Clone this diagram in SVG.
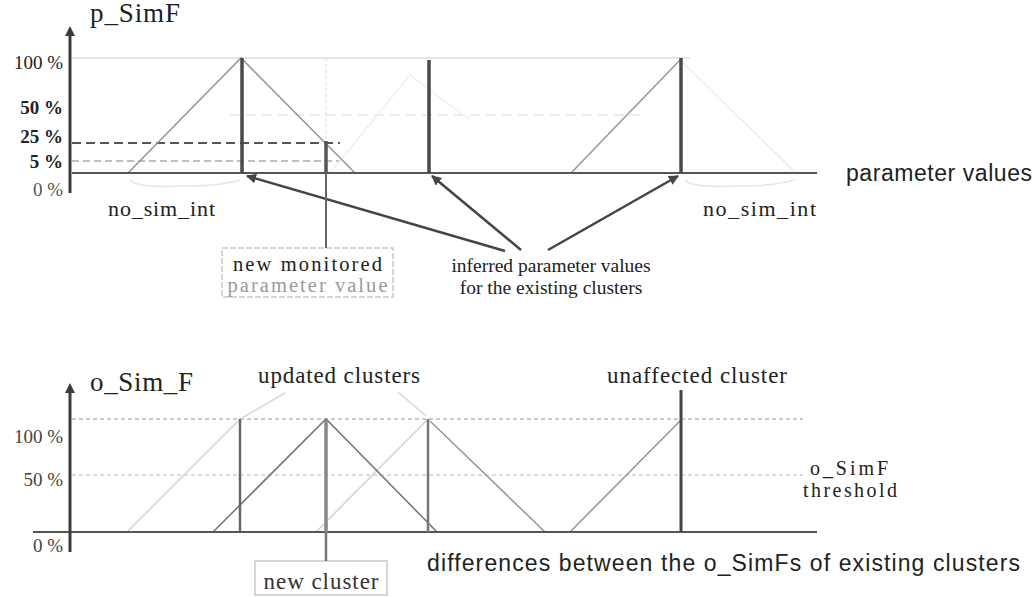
<svg xmlns="http://www.w3.org/2000/svg" width="1035" height="597" viewBox="0 0 1035 597">
  <style>
    .serif { font-family: "Liberation Serif", "Times New Roman", serif; fill: #222; }
    .sans { font-family: "Liberation Sans", Arial, sans-serif; fill: #222; }
    .axis { stroke: #3c3c3c; stroke-width: 3; fill: none; }
    .base { stroke: #555; stroke-width: 2; fill: none; }
    .bar { stroke: #4a4a4a; stroke-width: 3.5; fill: none; }
    .tri { stroke: #999; stroke-width: 1.6; fill: none; }
    .faint { stroke: #e6e6e6; stroke-width: 1.5; fill: none; }
    .lead { stroke: #444; stroke-width: 2.5; fill: none; }
    .box { stroke: #c8c8c8; stroke-width: 1.5; fill: none; }
  </style>
  <defs>
    <marker id="tip" viewBox="0 0 10 10" refX="9" refY="5" markerWidth="4" markerHeight="4" orient="auto-start-reverse">
      <path d="M0,0 L10,5 L0,10 z" fill="#444"/>
    </marker>
  </defs>
  <rect width="1035" height="597" fill="#ffffff"/>

  <!-- upper chart: p_SimF over parameter values -->
  <g id="upper-chart">
    <!-- reference levels -->
    <line x1="72" y1="58" x2="690" y2="58" stroke="#dcdcdc" stroke-width="1.5"/>
    <line class="faint" x1="230" y1="115" x2="640" y2="115" stroke-dasharray="10 6"/>
    <line x1="72" y1="143" x2="340" y2="143" stroke="#555" stroke-width="2" stroke-dasharray="9 5"/>
    <line x1="72" y1="161" x2="340" y2="161" stroke="#aaa" stroke-width="1.5" stroke-dasharray="7 4"/>
    <line class="faint" x1="326" y1="58" x2="326" y2="140" stroke-dasharray="3 3"/>
    <!-- faint cluster outlines -->
    <polyline points="330,173 410,75 470,120" stroke="#efefef" stroke-width="1.5" fill="none"/>
    <line x1="680" y1="60" x2="796" y2="173" stroke="#ececec" stroke-width="1.5"/>
    <path class="faint" d="M130,180 Q135,188 185,186 Q220,186 240,180"/>
    <path class="faint" d="M685,180 Q690,188 740,186 Q775,186 795,180"/>
    <!-- membership triangles -->
    <polyline class="tri" points="128,173 241,58 355,173"/>
    <line class="tri" x1="571" y1="173" x2="680" y2="60"/>
    <!-- axes -->
    <line class="base" x1="72" y1="173" x2="817" y2="173"/>
    <line class="axis" x1="70" y1="34" x2="70" y2="193"/>
    <polygon points="70,26 65,36 75,36" fill="#3c3c3c"/>
    <!-- cluster values -->
    <line class="bar" x1="242" y1="58" x2="242" y2="173"/>
    <line class="bar" x1="429" y1="60" x2="429" y2="173"/>
    <line class="bar" x1="681" y1="58" x2="681" y2="173"/>
    <line x1="326" y1="141" x2="326" y2="173" stroke="#555" stroke-width="3.5"/>
  </g>

  <g id="upper-labels">
    <text class="serif" x="90" y="22" font-size="27" textLength="90">p_SimF</text>
    <text class="serif" x="63" y="69" font-size="19" text-anchor="end">100 %</text>
    <text class="serif" x="63" y="114" font-size="19" font-weight="bold" text-anchor="end">50 %</text>
    <text class="serif" x="63" y="143" font-size="19" font-weight="bold" text-anchor="end">25 %</text>
    <text class="serif" x="63" y="168" font-size="19" font-weight="bold" text-anchor="end">5 %</text>
    <text class="serif" x="63" y="196" font-size="19" text-anchor="end" style="fill:#555">0 %</text>
    <text class="serif" x="108" y="216" font-size="22" textLength="107">no_sim_int</text>
    <text class="serif" x="703" y="216" font-size="22" textLength="113">no_sim_int</text>
    <text class="sans" x="846" y="181" font-size="23" textLength="186">parameter values</text>
  </g>

  <!-- new monitored value callout -->
  <g id="new-value">
    <rect class="box" x="222" y="248" width="171" height="49" stroke-dasharray="6 2"/>
    <text class="serif" x="307.5" y="271" font-size="20.5" text-anchor="middle" textLength="149">new monitored</text>
    <text class="serif" x="307.5" y="292" font-size="20.5" text-anchor="middle" textLength="160" style="fill:#9a9a9a">parameter value</text>
  </g>

  <g id="inferred-values">
    <text class="serif" x="551" y="272" font-size="19.5" text-anchor="middle">inferred parameter values</text>
    <text class="serif" x="551" y="294" font-size="19.5" text-anchor="middle">for the existing clusters</text>
  </g>

  <!-- lower chart: o_Sim_F over differences -->
  <g id="lower-chart">
    <line x1="72" y1="419" x2="803" y2="419" stroke="#bbb" stroke-width="1.5" stroke-dasharray="4 3"/>
    <line x1="72" y1="475" x2="803" y2="475" stroke="#cfcfcf" stroke-width="1.5" stroke-dasharray="4 3"/>
    <!-- faint outlines -->
    <line x1="127" y1="532" x2="240" y2="419" stroke="#d4d4d4" stroke-width="1.6"/>
    <line x1="316" y1="532" x2="428" y2="419" stroke="#d4d4d4" stroke-width="1.6"/>
    <!-- membership triangles -->
    <polyline class="tri" points="213,532 326,419 437,532" style="stroke:#7a7a7a"/>
    <line class="tri" x1="430" y1="421" x2="545" y2="532"/>
    <line class="tri" x1="570" y1="532" x2="680" y2="421"/>
    <!-- axes -->
    <line class="base" x1="33" y1="532" x2="817" y2="532"/>
    <line class="axis" x1="70" y1="392" x2="70" y2="552"/>
    <polygon points="70,383 65,393 75,393" fill="#3c3c3c"/>
    <!-- clusters -->
    <line x1="240" y1="419" x2="240" y2="532" stroke="#666" stroke-width="2.5"/>
    <line x1="428" y1="419" x2="428" y2="532" stroke="#777" stroke-width="2.5"/>
    <line x1="681" y1="390" x2="681" y2="532" stroke="#444" stroke-width="3"/>
    <line x1="326" y1="419" x2="326" y2="532" stroke="#888" stroke-width="3.5"/>
  </g>

  <g id="lower-labels">
    <text class="serif" x="90" y="391" font-size="27" textLength="103">o_Sim_F</text>
    <text class="serif" x="63" y="443" font-size="19" text-anchor="end" style="fill:#444">100 %</text>
    <text class="serif" x="63" y="486" font-size="19" text-anchor="end" style="fill:#444">50 %</text>
    <text class="serif" x="63" y="552" font-size="19" text-anchor="end" style="fill:#444">0 %</text>
    <text class="serif" x="849" y="475" font-size="20" text-anchor="middle" textLength="78">o_SimF</text>
    <text class="serif" x="850" y="497" font-size="20" text-anchor="middle" textLength="94">threshold</text>
    <text class="sans" x="427" y="571" font-size="23" textLength="593">differences between the o_SimFs of existing clusters</text>
  </g>

  <g id="updated-clusters">
    <text class="serif" x="339" y="383" font-size="23" text-anchor="middle" textLength="162">updated clusters</text>
  </g>

  <g id="unaffected-cluster">
    <text class="serif" x="697" y="383" font-size="23" text-anchor="middle" textLength="180">unaffected cluster</text>
  </g>

  <g id="new-cluster">
    <rect class="box" x="255" y="561" width="132" height="34"/>
    <text class="serif" x="321" y="589" font-size="23" text-anchor="middle" textLength="115" style="fill:#333">new cluster</text>
  </g>

  <!-- connectors -->
  <g id="connectors">
    <line class="lead" x1="505" y1="251" x2="247" y2="176" marker-end="url(#tip)"/>
    <line class="lead" x1="521" y1="250" x2="432" y2="176" marker-end="url(#tip)"/>
    <line class="lead" x1="548" y1="250" x2="678" y2="176" marker-end="url(#tip)"/>
    <line x1="326" y1="173" x2="326" y2="248" stroke="#666" stroke-width="2"/>
    <line x1="326" y1="532" x2="326" y2="561" stroke="#777" stroke-width="2.5"/>
    <line x1="242" y1="418" x2="285" y2="393" stroke="#d8d8d8" stroke-width="1.5"/>
    <line x1="398" y1="392" x2="426" y2="416" stroke="#d8d8d8" stroke-width="1.5"/>
  </g>
</svg>
